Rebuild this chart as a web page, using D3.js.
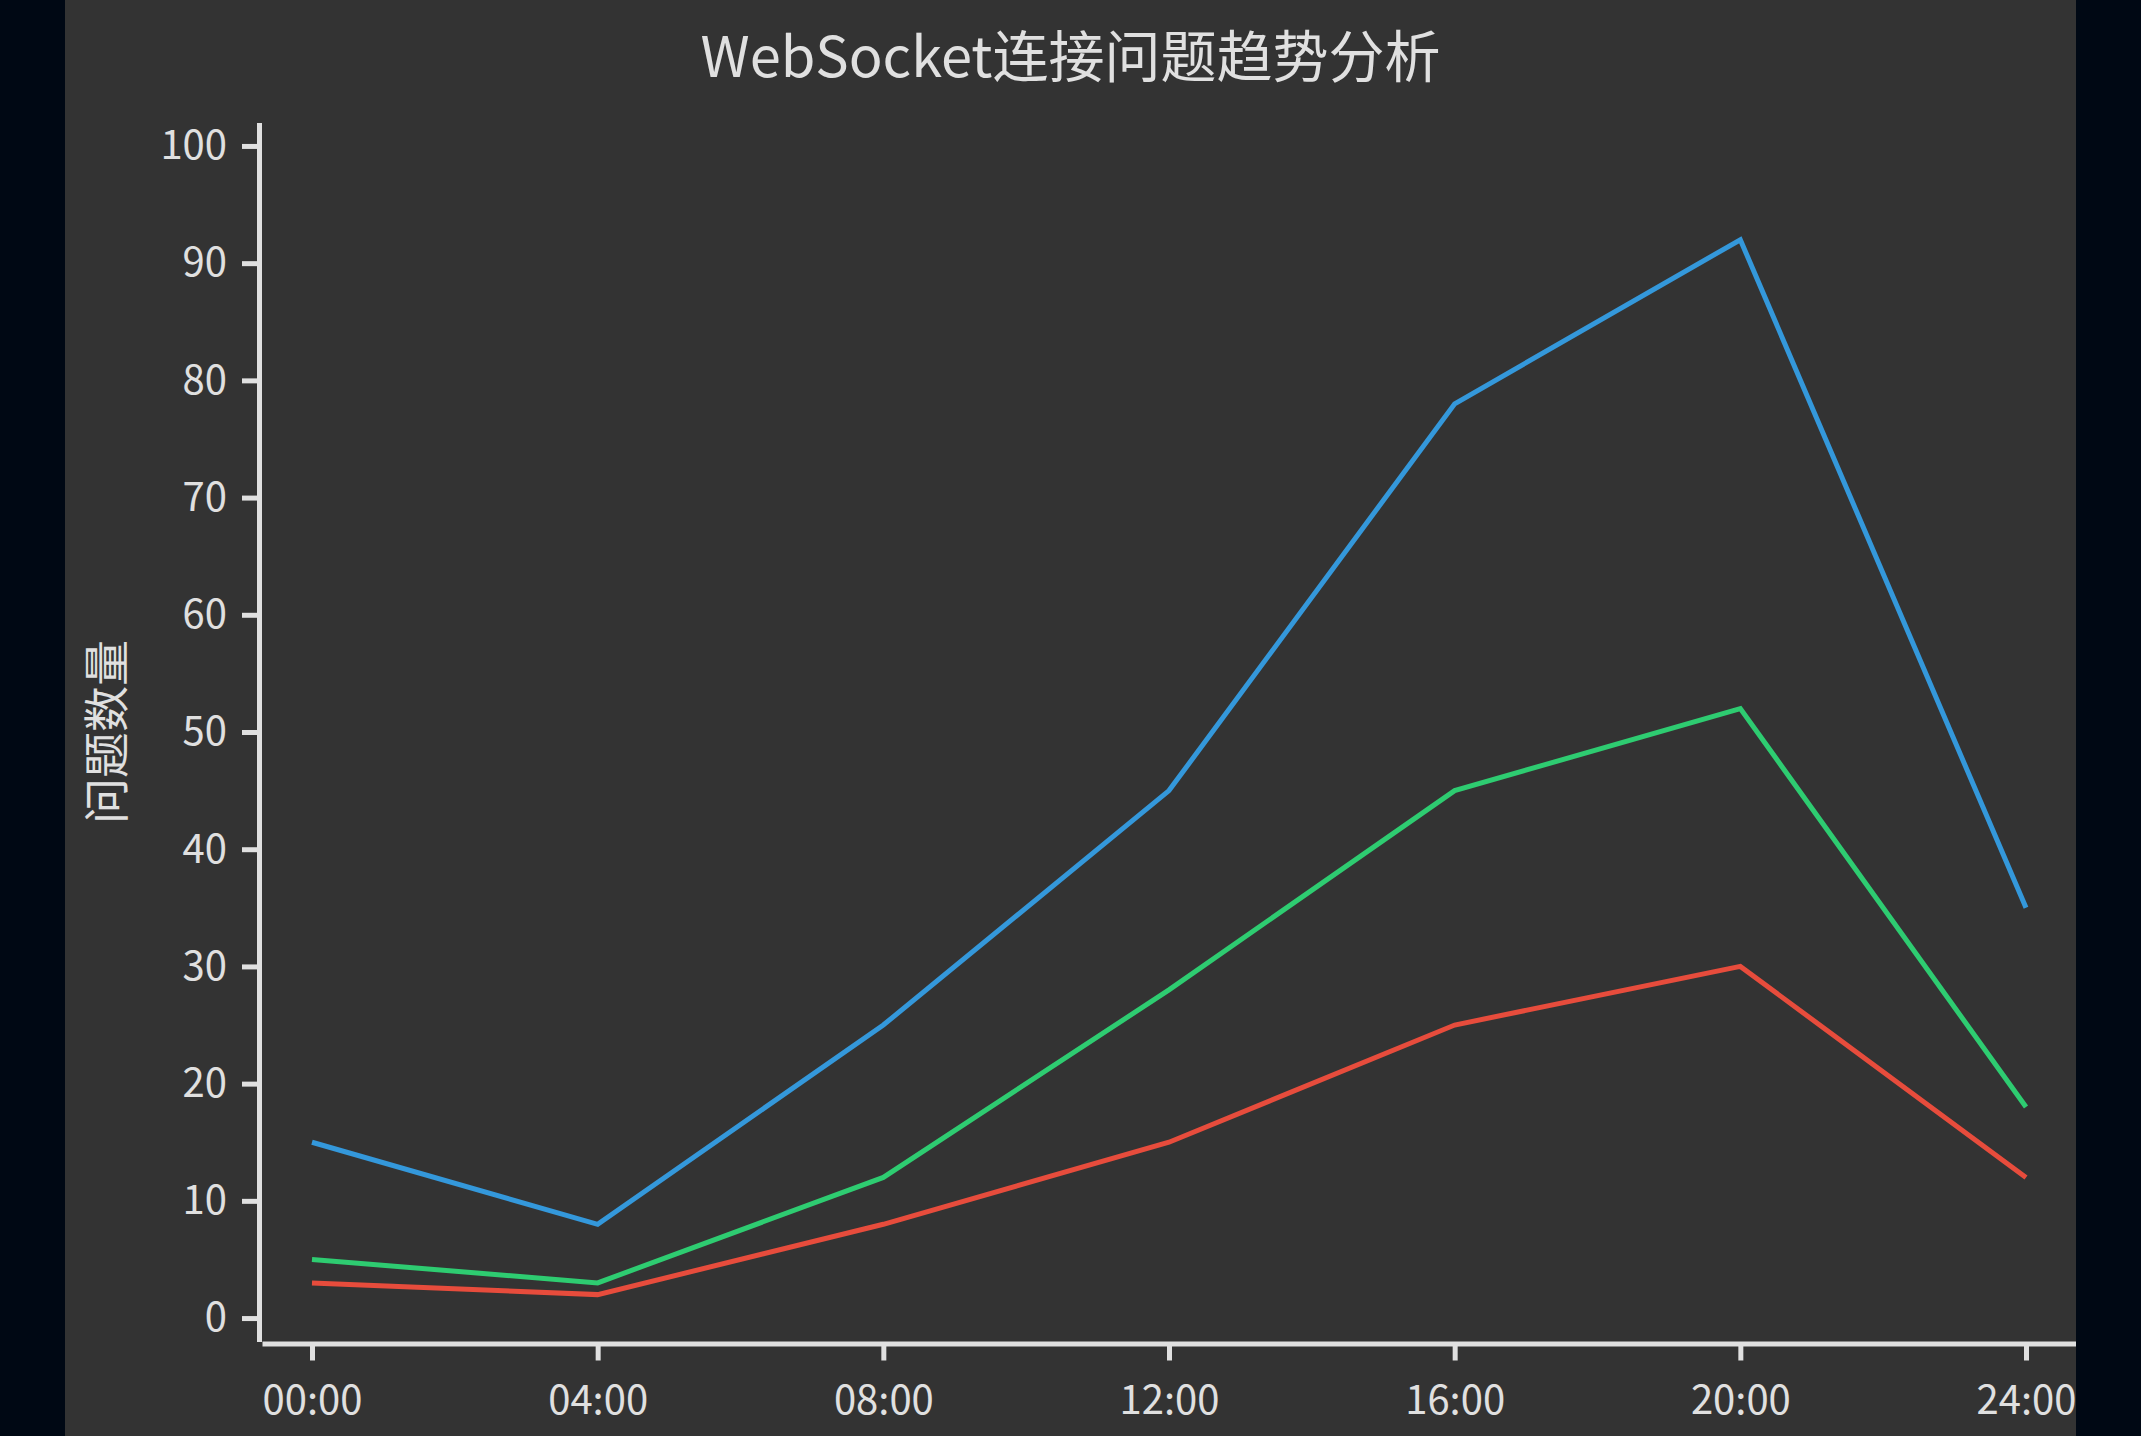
<!DOCTYPE html>
<html>
<head>
<meta charset="utf-8">
<script src="https://cdn.jsdelivr.net/npm/d3@7"></script>
<style>
    html, body { margin: 0; padding: 0; background: #000814; }
    #ws-trend {
        position: absolute;
        left: 65px;
        top: 0;
        width: 2011px;
        height: 1436px;
        background: #333333;
        overflow: hidden;
    }
</style>
</head>
<body>
<div id="ws-trend"></div>
<script>
// Data
const hours = [0, 4, 8, 12, 16, 20, 24];
const hourLabels = ["00:00", "04:00", "08:00", "12:00", "16:00", "20:00", "24:00"];
const seriesNames = ["连接超时", "握手失败", "异常断开"];
const seriesColors = ["#3498db", "#2ecc71", "#e74c3c"];
const timeoutCounts = [15, 8, 25, 45, 78, 92, 35];
const handshakeCounts = [5, 3, 12, 28, 45, 52, 18];
const dropCounts = [3, 2, 8, 15, 25, 30, 12];
const yTicks = [0, 10, 20, 30, 40, 50, 60, 70, 80, 90, 100];

// Dimensions
const width = 2011;
const height = 1436;
const font = "'Noto Sans CJK SC', sans-serif";
const axisColor = "#e0e0e0";

const container = d3.select("#ws-trend");

const svg = container.append("svg")
    .attr("width", width)
    .attr("height", height);

// Title
svg.append("text")
    .attr("x", width / 2)
    .attr("y", 77)
    .attr("text-anchor", "middle")
    .style("font-family", font)
    .style("font-size", "56px")
    .style("fill", axisColor)
    .text("WebSocket连接问题趋势分析");

// Scales (domains padded a little so the axes stand off the data)
const x = d3.scaleLinear().domain([-0.7, 24.7]).range([197, 2011]);
const y = d3.scaleLinear().domain([-2, 102]).range([1341.5, 122.5]);

// Axes
const xAxis = svg.append("g")
    .attr("transform", `translate(0,${y(-2) + 2})`)
    .call(d3.axisBottom(x)
        .tickValues(hours)
        .tickFormat((d, i) => hourLabels[i])
        .tickSize(17)
        .tickSizeOuter(0)
        .tickPadding(25));

const yAxis = svg.append("g")
    .attr("transform", `translate(${x(-0.7) - 3},0)`)
    .call(d3.axisLeft(y)
        .tickValues(yTicks)
        .tickSize(17)
        .tickSizeOuter(0)
        .tickPadding(15));

[xAxis, yAxis].forEach(g => {
    g.selectAll(".domain, .tick line")
        .attr("stroke", axisColor)
        .attr("stroke-width", 5);
    g.selectAll("text")
        .style("font-family", font)
        .style("font-size", "40px")
        .style("fill", axisColor);
});

// Y label
svg.append("text")
    .attr("transform", `translate(42,${(y(-2) + y(102)) / 2}) rotate(-90)`)
    .attr("text-anchor", "middle")
    .attr("dy", "0.35em")
    .style("font-family", font)
    .style("font-size", "46px")
    .style("fill", axisColor)
    .text("问题数量");

// Lines
const series = [timeoutCounts, handshakeCounts, dropCounts].map((values, i) => ({
    name: seriesNames[i],
    color: seriesColors[i],
    values: values.map((v, j) => ({ hour: hours[j], value: v }))
}));

const line = d3.line()
    .x(d => x(d.hour))
    .y(d => y(d.value));

svg.selectAll(".series")
    .data(series)
    .enter().append("path")
    .attr("class", "series")
    .attr("d", d => line(d.values))
    .attr("fill", "none")
    .attr("stroke", d => d.color)
    .attr("stroke-width", 5);
</script>
</body>
</html>
